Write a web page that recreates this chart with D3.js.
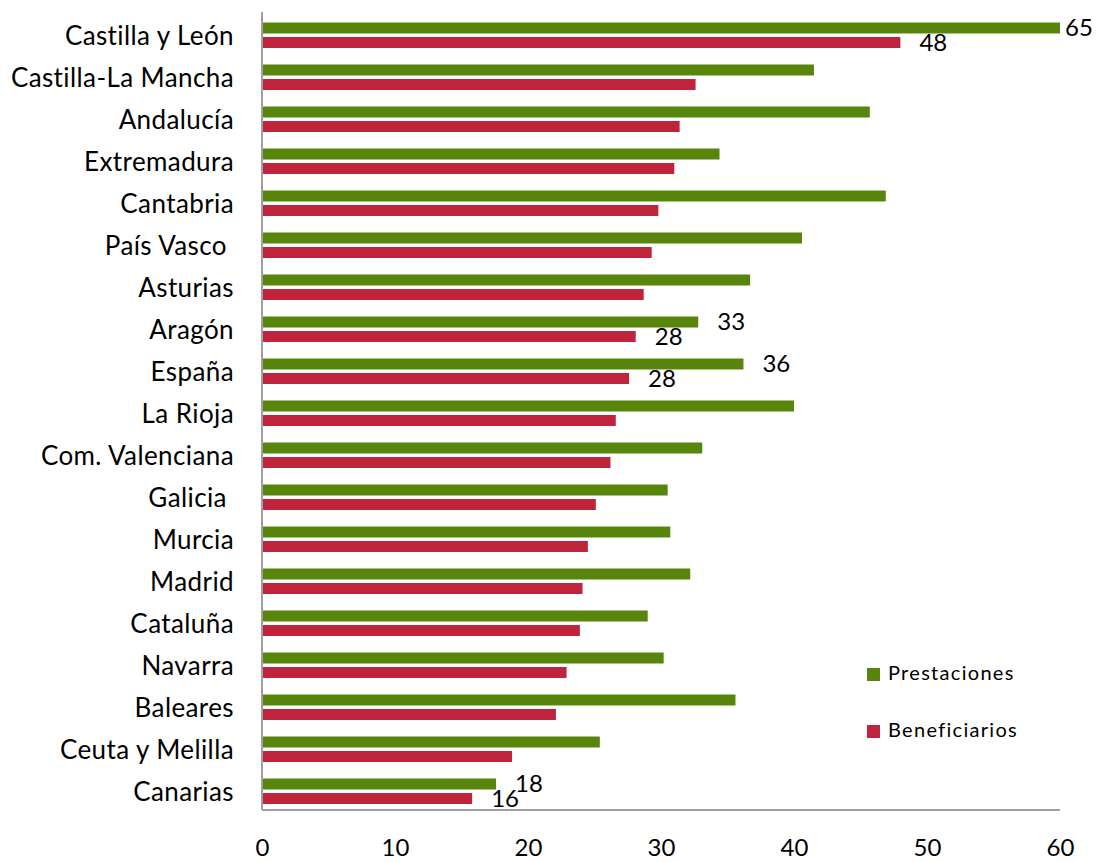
<!DOCTYPE html>
<html><head><meta charset="utf-8">
<script src="https://cdn.jsdelivr.net/npm/d3@7"></script>
<style>body{margin:0;background:#fff}svg text{font-family:Lato,"Open Sans",sans-serif;white-space:pre}</style>
</head><body><svg id="c" width="1096" height="862"></svg>
<script>
const categories = ["Castilla y León","Castilla-La Mancha","Andalucía","Extremadura","Cantabria","País Vasco ","Asturias","Aragón","España","La Rioja","Com. Valenciana","Galicia ","Murcia","Madrid","Cataluña","Navarra","Baleares","Ceuta y Melilla","Canarias"];
const prestaciones = [65,41.5,45.7,34.4,46.9,40.6,36.7,32.8,36.2,40.0,33.1,30.5,30.7,32.2,29.0,30.2,35.6,25.4,17.6];
const beneficiarios = [48,32.6,31.4,31.0,29.8,29.3,28.7,28.1,27.6,26.6,26.2,25.1,24.5,24.1,23.9,22.9,22.1,18.8,15.8];
const labeledCategories = ["Castilla y León","Aragón","España","Canarias"];
const xTicks = [0,10,20,30,40,50,60];
const seriesNames = ["Prestaciones","Beneficiarios"];
const colors = ["#58850b","#be253d"];

const svg = d3.select("#c");
const x = d3.scaleLinear().domain([0,60]).range([262,1060]);
const y = d3.scaleBand().domain(categories).range([12,810]);
const series = [prestaciones, beneficiarios];
const barOff = [10.5, 25], barH = 11;

series.forEach((vals, s) => {
  svg.append("g").selectAll("rect").data(categories).join("rect")
    .attr("x", x(0))
    .attr("y", d => y(d) + barOff[s])
    .attr("width", (d,i) => x(Math.min(vals[i],60)) - x(0))
    .attr("height", barH)
    .attr("fill", colors[s]);
  svg.append("g").selectAll("text")
    .data(categories.map((c,i)=>({c,v:vals[i]})).filter(d=>labeledCategories.includes(d.c)))
    .join("text")
    .attr("x", d => d.v > 60 ? x(60) + 5 : x(d.v) + 19)
    .attr("y", d => y(d.c) + barOff[s] + barH/2 + 2)
    .attr("dominant-baseline","middle")
    .attr("font-size", 24).attr("fill","#000")
    .text(d => d3.format(".0f")(d.v));
});

// axes lines
svg.append("line").attr("x1",x(0)).attr("x2",x(0)).attr("y1",12).attr("y2",810).attr("stroke","#a0a0a0").attr("stroke-width",2);
svg.append("line").attr("x1",x(0)).attr("x2",x(60)).attr("y1",810).attr("y2",810).attr("stroke","#a0a0a0").attr("stroke-width",2);

// category labels
const yAxis = d3.axisLeft(y).tickSize(0).tickPadding(28);
const gy = svg.append("g").attr("transform",`translate(${x(0)},0)`).call(yAxis);
gy.select(".domain").remove();
gy.selectAll("text").attr("font-size",26).attr("letter-spacing","0.4px").attr("fill","#000").attr("font-family","Lato").attr("dy","0.47em");

// x tick labels
const xAxis = d3.axisBottom(x).tickValues(xTicks).tickSize(0).tickPadding(29);
const gx = svg.append("g").attr("transform","translate(0,810)").call(xAxis);
gx.select(".domain").remove();
gx.selectAll("text").attr("font-size",24).attr("fill","#000").attr("font-family","Lato");

// legend
const lg = svg.append("g");
seriesNames.forEach((n,i)=>{
  const yy = 668 + i*57;
  lg.append("rect").attr("x",867).attr("y",yy).attr("width",13).attr("height",13).attr("fill",colors[i]);
  lg.append("text").attr("x",888).attr("y",yy+7).attr("dominant-baseline","middle")
    .attr("font-size",20).attr("letter-spacing","1.3px").attr("fill","#000").text(n);
});
</script></body></html>
